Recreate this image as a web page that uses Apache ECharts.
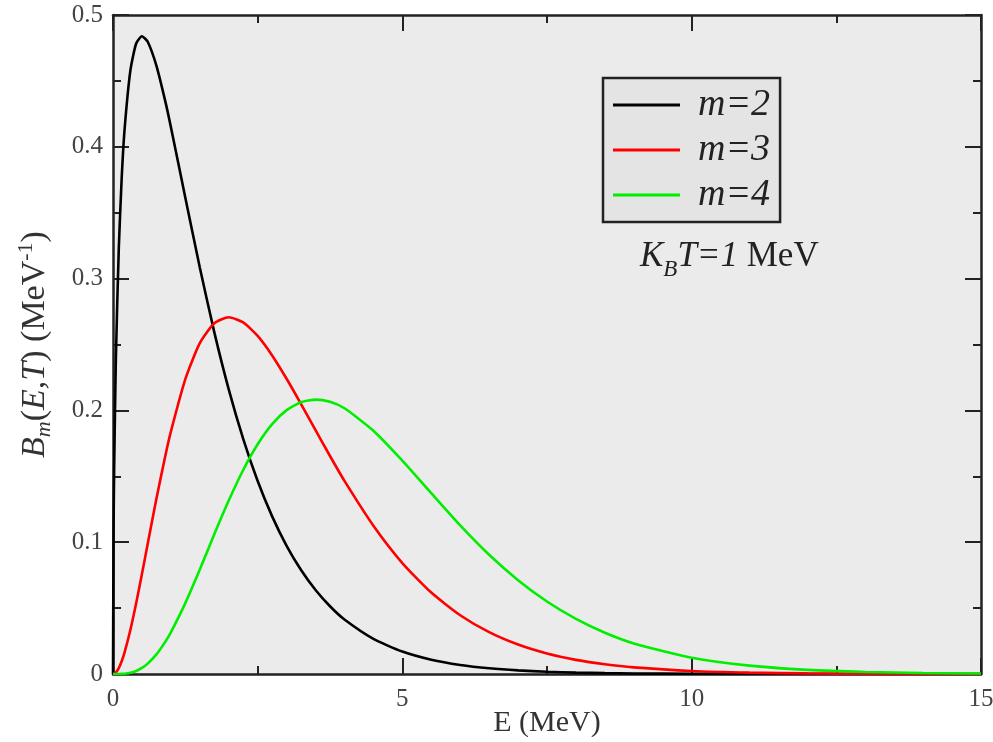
<!DOCTYPE html>
<html>
<head>
<meta charset="utf-8">
<script src="https://cdn.jsdelivr.net/npm/echarts@6/dist/echarts.min.js"></script>
<style>html,body{margin:0;padding:0;background:#fff}#c{width:993px;height:742px}</style>
</head>
<body>
<div id="c"></div>
<script>
var energies = [0, 0.01, 0.02, 0.05, 0.1, 0.15, 0.2, 0.3, 0.4, 0.5, 0.6, 0.75, 0.9, 1, 1.25, 1.5, 1.75, 2, 2.25, 2.5, 2.75, 3, 3.25, 3.5, 3.75, 4, 4.5, 5, 5.5, 6, 6.5, 7, 7.5, 8, 8.5, 9, 10, 11, 12, 13, 14, 15];
var m2 = [0, 0.1117, 0.1564, 0.2400, 0.3229, 0.3761, 0.4131, 0.4578, 0.4784, 0.4839, 0.4797, 0.4616, 0.4352, 0.4151, 0.3614, 0.3084, 0.2594, 0.2160, 0.1784, 0.1464, 0.1196, 0.0973, 0.0789, 0.0637, 0.0514, 0.0413, 0.0266, 0.0170, 0.0108, 0.00685, 0.00432, 0.00272, 0.00171, 0.00107, 0.00067, 0.00042, 0.00016, 0.00006, 0.00002, 0, 0, 0];
var m3 = [0, 0.00005, 0.000196, 0.00119, 0.00452, 0.00968, 0.01637, 0.03334, 0.05363, 0.0758, 0.09878, 0.1329, 0.1647, 0.1839, 0.2238, 0.2510, 0.2661, 0.2707, 0.2668, 0.2565, 0.2417, 0.2240, 0.2048, 0.1850, 0.1654, 0.1465, 0.1125, 0.0842, 0.0618, 0.0446, 0.03175, 0.02234, 0.01556, 0.01073, 0.00735, 0.0050, 0.00227, 0.00101, 0.00044, 0.00019, 0.00008, 0.00003];
var m4 = [0, 0, 0, 0.0000023, 0.0000246, 0.0000966, 0.000252, 0.00094, 0.00233, 0.00461, 0.00789, 0.01484, 0.02418, 0.03163, 0.0538, 0.0793, 0.1060, 0.1316, 0.1548, 0.1743, 0.1896, 0.2002, 0.2062, 0.2082, 0.2065, 0.2016, 0.1846, 0.1619, 0.1372, 0.1128, 0.0905, 0.0712, 0.0550, 0.0418, 0.0313, 0.0232, 0.01234, 0.00634, 0.00316, 0.00154, 0.00073, 0.00034];
var seriesNames = ['m=2', 'm=3', 'm=4'];
var seriesColors = ['#000000', '#ff0000', '#00ee00'];
var xTicks = ['0', '5', '10', '15'];
var yTicks = ['0', '0.1', '0.2', '0.3', '0.4', '0.5'];

function pairs(ys) { return energies.map(function (e, i) { return [e, ys[i]]; }); }
var font = 'Liberation Serif';
function tick() { return { show: true, inside: true, length: 16, lineStyle: { color: '#222', width: 2 } }; }
function minor() { return { show: true, splitNumber: 2, length: 8, lineStyle: { color: '#222', width: 2 } }; }
function aline() { return { show: true, onZero: false, lineStyle: { color: '#222', width: 2.5 } }; }

var chart = echarts.init(document.getElementById('c'), null, { renderer: 'canvas' });
chart.setOption({
  backgroundColor: '#ffffff',
  animation: false,
  grid: { left: 113, right: 12, top: 15, bottom: 68, containLabel: false, outerBoundsMode: 'none',
    show: true, backgroundColor: '#ebebeb', borderColor: '#222', borderWidth: 0 },
  legend: {
    orient: 'vertical', left: 603, top: 78, selectedMode: false,
    backgroundColor: '#e4e4e4', borderColor: '#222', borderWidth: 2.5, borderRadius: 0,
    padding: [8, 10, 8, 10], itemGap: 7, itemWidth: 67, itemHeight: 14,
    data: seriesNames.map(function (n) { return { name: n, icon: 'path://M0,0L66,0L66,3L0,3Z' }; }),
    textStyle: { fontFamily: font, fontStyle: 'italic', fontSize: 38, lineHeight: 30, color: '#222', padding: [0, 0, 0, 13] }
  },
  xAxis: [{
    type: 'value', min: 0, max: 15, interval: 5,
    name: 'E (MeV)', nameLocation: 'middle', nameGap: 34, nameMoveOverlap: false,
    nameTextStyle: { fontFamily: font, fontSize: 30, color: '#333' },
    axisLine: aline(), axisTick: tick(), minorTick: minor(),
    splitLine: { show: false },
    axisLabel: { fontFamily: font, fontSize: 25, color: '#444', margin: 13,
      formatter: function (v) { return xTicks[Math.round(v / 5)]; } }
  }, {
    type: 'value', min: 0, max: 15, interval: 5, position: 'top',
    axisLine: aline(), axisTick: tick(), minorTick: minor(),
    splitLine: { show: false }, axisLabel: { show: false }
  }],
  yAxis: [{
    type: 'value', min: 0, max: 0.5, interval: 0.1,
    name: '{i|B}{sub|m}({i|E,T}) (MeV{sup|-1})', nameLocation: 'middle', nameGap: 58, nameRotate: 90,
    nameTextStyle: { fontFamily: font, fontSize: 34, color: '#333', lineHeight: 40,
      rich: {
        i: { fontFamily: font, fontStyle: 'italic', fontSize: 34, color: '#333' },
        sub: { fontFamily: font, fontStyle: 'italic', fontSize: 22, color: '#333', verticalAlign: 'bottom', lineHeight: 40, padding: [22, 0, 0, 0] },
        sup: { fontFamily: font, fontSize: 22, color: '#333', verticalAlign: 'top', lineHeight: 40, padding: [0, 0, 14, 0] }
      } },
    axisLine: aline(), axisTick: tick(), minorTick: minor(),
    splitLine: { show: false },
    axisLabel: { fontFamily: font, fontSize: 25, color: '#444', margin: 10,
      formatter: function (v) { return yTicks[Math.round(v * 10)]; } }
  }, {
    type: 'value', min: 0, max: 0.5, interval: 0.1, position: 'right',
    axisLine: aline(), axisTick: tick(), minorTick: minor(),
    splitLine: { show: false }, axisLabel: { show: false }
  }],
  graphic: [{
    type: 'text', left: 640, top: 239, z: 100,
    style: {
      text: '{i|K}{sub|B}{i|T=1} MeV',
      fontFamily: font, fontSize: 35, fill: '#222',
      rich: {
        i: { fontFamily: font, fontStyle: 'italic', fontSize: 35, fill: '#222' },
        sub: { fontFamily: font, fontStyle: 'italic', fontSize: 23, fill: '#222', padding: [26, 0, 0, 0] }
      }
    }
  }],
  series: [m2, m3, m4].map(function (ys, k) {
    return {
      name: seriesNames[k], type: 'line', data: pairs(ys), smooth: 0.2,
      symbol: 'none', xAxisIndex: 0, yAxisIndex: 0,
      itemStyle: { color: seriesColors[k] },
      lineStyle: { color: seriesColors[k], width: 2.6 }
    };
  })
});
</script>
</body>
</html>
